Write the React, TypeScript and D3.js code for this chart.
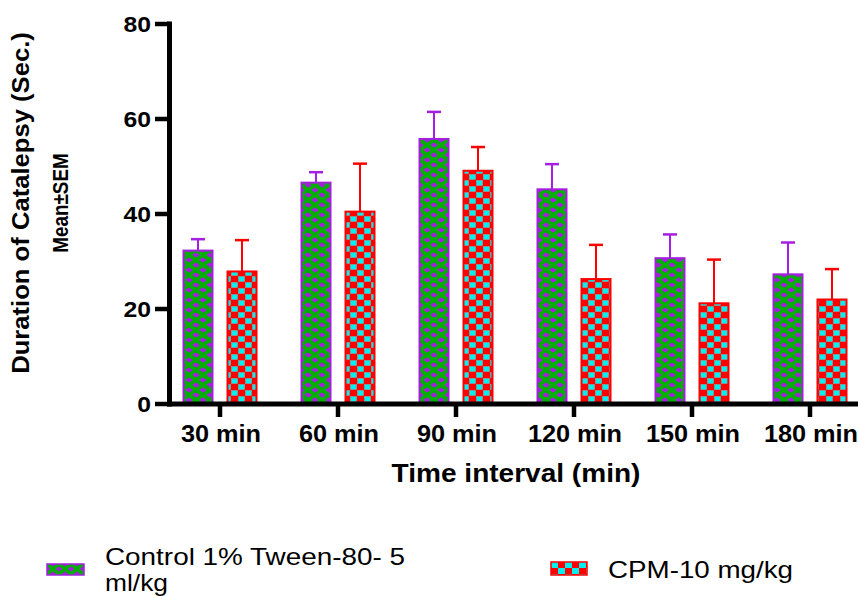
import React from 'react';
import * as d3 from 'd3';

const categories = ['30 min', '60 min', '90 min', '120 min', '150 min', '180 min'];
const controlMeans = [32.3, 46.6, 55.8, 45.2, 30.7, 27.3];
const controlUpper = [34.7, 48.8, 61.5, 50.5, 35.7, 34.0];
const cpmMeans = [27.9, 40.5, 49.1, 26.3, 21.2, 22.0];
const cpmUpper = [34.5, 50.6, 54.1, 33.5, 30.4, 28.4];
const yTicks = [0, 20, 40, 60, 80];

const W = 858;
const H = 596;
const axisX = 169.5;
const axisY = 404;
const font = 'Arial, "Liberation Sans", Helvetica, sans-serif';

const purple = '#a61fe0';
const green = '#00b000';
const red = '#ff0000';
const cyan = '#00f0f0';

// text rendered a bit wider than plain Arial in the original
const sx = 1.1;

export default function App() {
  const y = d3.scaleLinear().domain([0, 80]).range([axisY, 24]);
  const x = d3.scaleBand<string>().domain(categories).range([161, 869]).padding(0);
  const barW = 29;
  const gap = 15;

  const series = [
    { name: 'control', means: controlMeans, upper: controlUpper, fill: 'url(#pat-control)', stroke: purple, off: -gap / 2 - barW },
    { name: 'cpm', means: cpmMeans, upper: cpmUpper, fill: 'url(#pat-cpm)', stroke: red, off: gap / 2 },
  ];

  return (
    <svg width={W} height={H} style={{ position: 'absolute', left: 0, top: 0 }}>
      <defs>
        <pattern id="pat-control" patternUnits="userSpaceOnUse" width={14} height={10}>
          <rect width={14} height={10} fill={purple} />
          <line x1={0} y1={0} x2={14} y2={10} stroke={green} strokeWidth={3.6} />
          <line x1={14} y1={0} x2={0} y2={10} stroke={green} strokeWidth={3.6} />
          <line x1={-7} y1={-5} x2={7} y2={5} stroke={green} strokeWidth={3.6} />
          <line x1={7} y1={5} x2={21} y2={15} stroke={green} strokeWidth={3.6} />
        </pattern>
        <pattern id="pat-cpm" patternUnits="userSpaceOnUse" width={14} height={12}>
          <rect width={14} height={12} fill={red} />
          <rect x={0.5} y={0.5} width={6} height={5} fill={cyan} stroke="#7fb0b0" strokeWidth={0.6} />
          <rect x={7.5} y={6.5} width={6} height={5} fill={cyan} stroke="#7fb0b0" strokeWidth={0.6} />
        </pattern>
        <pattern id="leg-control" patternUnits="userSpaceOnUse" x={47} y={564} width={12} height={10}>
          <rect width={12} height={10} fill={purple} />
          <line x1={0} y1={0} x2={12} y2={10} stroke={green} strokeWidth={3.6} />
          <line x1={12} y1={0} x2={0} y2={10} stroke={green} strokeWidth={3.6} />
        </pattern>
        <pattern id="leg-cpm" patternUnits="userSpaceOnUse" x={551} y={562} width={14} height={12}>
          <rect width={14} height={12} fill={red} />
          <rect x={0} y={0} width={7} height={6} fill={cyan} />
          <rect x={7} y={6} width={7} height={6} fill={cyan} />
        </pattern>
      </defs>

      {series.map((s) =>
        categories.map((c, i) => {
          const cx = (x(c) ?? 0) + x.bandwidth() / 2 + s.off;
          const top = y(s.means[i]);
          const cap = y(s.upper[i]);
          const mid = cx + barW / 2;
          return (
            <g key={s.name + c}>
              <line x1={mid} x2={mid} y1={top} y2={cap} stroke={s.stroke} strokeWidth={2} />
              <line x1={mid - 7} x2={mid + 7} y1={cap} y2={cap} stroke={s.stroke} strokeWidth={2.5} />
              <rect x={cx} y={top} width={barW} height={axisY - top} fill={s.fill} stroke={s.stroke} strokeWidth={2} />
            </g>
          );
        })
      )}

      {/* y axis */}
      <line x1={axisX} x2={axisX} y1={21.5} y2={axisY + 2.5} stroke="#000" strokeWidth={5} />
      {yTicks.map((t) => (
        <g key={t}>
          <line x1={155} x2={axisX} y1={y(t)} y2={y(t)} stroke="#000" strokeWidth={4.5} />
          <text
            transform={`translate(151,${y(t)}) scale(${sx},1)`}
            dy="0.36em"
            textAnchor="end"
            fontFamily={font}
            fontWeight="bold"
            fontSize={22.5}
          >
            {t}
          </text>
        </g>
      ))}

      {/* x axis */}
      <line x1={axisX - 2.5} x2={W} y1={axisY} y2={axisY} stroke="#000" strokeWidth={5} />
      {categories.map((c) => {
        const cx = (x(c) ?? 0) + x.bandwidth() / 2;
        return (
          <g key={c}>
            <line x1={cx} x2={cx} y1={axisY} y2={417} stroke="#000" strokeWidth={4.5} />
            <text
              transform={`translate(${cx + 1},442) scale(${sx},1)`}
              textAnchor="middle"
              fontFamily={font}
              fontWeight="bold"
              fontSize={23}
            >
              {c}
            </text>
          </g>
        );
      })}

      <text
        transform={`translate(516,482) scale(${sx},1)`}
        textAnchor="middle"
        fontFamily={font}
        fontWeight="bold"
        fontSize={25.5}
      >
        Time interval (min)
      </text>

      <text
        transform="translate(29,203) rotate(-90) scale(1.09,1)"
        textAnchor="middle"
        fontFamily={font}
        fontWeight="bold"
        fontSize={23.5}
      >
        Duration of Catalepsy (Sec.)
      </text>
      <text
        transform="translate(68,203) rotate(-90) scale(0.86,1)"
        textAnchor="middle"
        fontFamily={font}
        fontWeight="bold"
        fontSize={22}
      >
        Mean±SEM
      </text>

      {/* legend */}
      <rect x={47} y={564} width={37} height={11} fill="url(#leg-control)" stroke={purple} strokeWidth={1.5} />
      <text x={105} y={565} fontFamily={font} fontSize={24} textLength={300} lengthAdjust="spacingAndGlyphs">
        Control 1% Tween-80- 5
      </text>
      <text x={105} y={591} fontFamily={font} fontSize={24} textLength={63} lengthAdjust="spacingAndGlyphs">
        ml/kg
      </text>
      <rect x={551} y={562} width={36} height={13} fill="url(#leg-cpm)" stroke={red} strokeWidth={1.5} />
      <text x={608} y={578} fontFamily={font} fontSize={24} textLength={185} lengthAdjust="spacingAndGlyphs">
        CPM-10 mg/kg
      </text>
    </svg>
  );
}
